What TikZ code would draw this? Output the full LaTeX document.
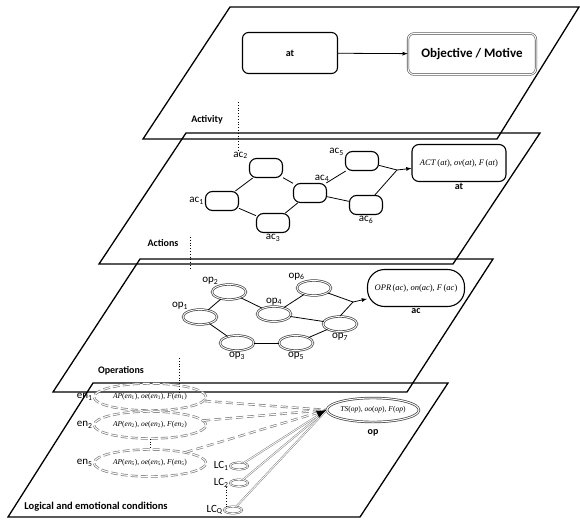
\documentclass[tikz,border=0pt]{standalone}
\usepackage{fontspec}
\setmainfont{Carlito}
\newfontfamily\formfont{Liberation Serif}
\usepackage{tikz}
\usetikzlibrary{arrows,arrows.meta,shapes.geometric,positioning,calc}

\begin{document}
\begin{tikzpicture}[x=1pt,y=-1pt,plane/.style={line width=1.3pt},title/.style={font=\fontsize{10}{12}\selectfont\bfseries,inner sep=1pt},lbl/.style={font=\fontsize{11}{13}\selectfont,inner sep=1pt},label distance=0pt,actn/.style={draw,line width=1.1pt,rounded corners=7pt,minimum width=33pt,minimum height=19pt},oper/.style={ellipse,draw=black!75,double=white,double distance=0.9pt,line width=0.7pt,minimum width=34pt,minimum height=15pt,inner sep=0pt},goal/.style={draw,line width=1.1pt,rounded corners=7pt,font=\formfont\fontsize{8.5}{10}\selectfont,inner sep=1pt},emo/.style={ellipse,draw=gray,line width=0.7pt,double=white,double distance=1pt,dash pattern=on 7pt off 3pt,minimum width=112pt,minimum height=27pt,inner sep=0pt,font=\formfont\fontsize{7.5}{9}\selectfont},cond/.style={ellipse,draw=black!70,line width=0.5pt,double=white,double distance=0.8pt,minimum width=18pt,minimum height=7pt,inner sep=0pt},edge/.style={line width=0.8pt},link/.style={edge,->,>=latex},emoline/.style={draw=gray,line width=0.7pt,double=white,double distance=1pt,dash pattern=on 7pt off 4pt},condline/.style={draw=gray,line width=0.5pt,double=white,double distance=0.8pt}]
\useasboundingbox (0,0) rectangle (580,519);

\draw[plane] (230,7) -- (579,7) -- (497,139) -- (143,139) -- cycle;
\draw[plane] (186,133) -- (540,133) -- (453,264) -- (99,264) -- cycle;
\draw[plane] (140,259) -- (493,259) -- (407,392) -- (53,392) -- cycle;
\draw[plane] (93,383) -- (448,383) -- (360,517) -- (8,517) -- cycle;

\node (topat)[draw,line width=1.1pt,rounded corners=6pt,minimum width=95pt,minimum height=41pt,title] at (290,53) {at};
\node (motive)[draw=black!70,line width=0.6pt,double=white,double distance=1pt,rounded corners=6pt,minimum width=128pt,minimum height=41pt,font=\fontsize{13}{15}\selectfont\bfseries] at (472,54) {Objective / Motive};
\draw [link] (topat) to (motive);
\node (activity)[title] at (207,120) {Activity};
\draw [dotted,thick] (238,102) -- (238,152);

\node (ac1)[actn,label={[lbl]left:ac\textsubscript{1}}] at (222,201) {};
\node (ac2)[actn,label={[lbl]155:ac\textsubscript{2}}] at (266,168) {};
\node (ac3)[actn,label={[lbl]below:ac\textsubscript{3}}] at (273,223) {};
\node (ac4)[actn,label={[lbl]70:ac\textsubscript{4}}] at (310,193) {};
\node (ac5)[actn,label={[lbl]165:ac\textsubscript{5}}] at (362,161) {};
\node (ac6)[actn,label={[lbl]below:ac\textsubscript{6}}] at (366,205) {};
\node (actbox)[goal,minimum width=94pt,minimum height=37pt,label={[title]below:at}] at (459,163) {\textit{ACT}\,(\textit{at}), \textit{ov}(\textit{at}), \textit{F}\,(\textit{at})};
\coordinate (j1) at (397,170);
\draw [edge] (ac1) to (ac2);
\draw [edge] (ac1) to (ac3);
\draw [edge] (ac2) to (ac4);
\draw [edge] (ac3) to (ac4);
\draw [edge] (ac4) to (ac5);
\draw [edge] (ac4) to (ac6);
\draw [edge] (ac5) to (j1);
\draw [edge] (ac6) to (j1);
\draw [link] (j1) to (actbox);
\node (actions)[title] at (163,243) {Actions};
\draw [dotted,thick] (190,237) -- (190,270);

\node (op1)[oper,label={[lbl]150:op\textsubscript{1}}] at (200,317) {};
\node (op2)[oper,label={[lbl]145:op\textsubscript{2}}] at (229,292) {};
\node (op3)[oper,label={[lbl]below:op\textsubscript{3}}] at (237,343) {};
\node (op4)[oper,label={[lbl]above:op\textsubscript{4}}] at (274,314) {};
\node (op5)[oper,label={[lbl]below:op\textsubscript{5}}] at (296,343) {};
\node (op6)[oper,label={[lbl]140:op\textsubscript{6}}] at (314,288) {};
\node (op7)[oper,label={[lbl]below:op\textsubscript{7}}] at (340,324) {};
\node (oprbox)[goal,rounded corners=17pt,minimum width=97pt,minimum height=37pt,label={[title]below:ac}] at (416,288) {\textit{OPR}\,(\textit{ac}), \textit{on}(\textit{ac}), \textit{F}\,(\textit{ac})};
\coordinate (j2) at (353,302);
\draw [edge] (op1) to (op2);
\draw [edge] (op1) to (op3);
\draw [edge] (op2) to (op4);
\draw [edge] (op3) to (op5);
\draw [edge] (op4) to (op6);
\draw [edge] (op4) to (op7);
\draw [edge] (op5) to (op7);
\draw [edge] (op6) to (j2);
\draw [edge] (op7.north) to (j2);
\draw [link] (j2) to (oprbox);
\node (operations)[title] at (121,371) {Operations};
\draw [dotted,thick] (179,358) -- (179,393);

\node (en1)[emo,label={[lbl]left:en\textsubscript{1}}] at (150,397) {\textit{AP}(\textit{en}\textsubscript{1}), \textit{oe}(\textit{en}\textsubscript{1}), \textit{F}(\textit{en}\textsubscript{1})};
\node (en2)[emo,label={[lbl]left:en\textsubscript{2}}] at (150,425) {\textit{AP}(\textit{en}\textsubscript{2}), \textit{oe}(\textit{en}\textsubscript{2}), \textit{F}(\textit{en}\textsubscript{2})};
\node (en5)[emo,label={[lbl]left:en\textsubscript{5}}] at (150,463) {\textit{AP}(\textit{en}\textsubscript{5}), \textit{oe}(\textit{en}\textsubscript{5}), \textit{F}(\textit{en}\textsubscript{5})};
\node (lc1)[cond,label={[lbl]left:LC\textsubscript{1}}] at (239,466) {};
\node (lc2)[cond,label={[lbl]left:LC\textsubscript{2}}] at (239,483) {};
\node (lcq)[cond,label={[lbl]left:LC\textsubscript{Q}}] at (233,510) {};
\node (opx)[ellipse,draw=black!75,line width=0.7pt,double=white,double distance=1pt,minimum width=87pt,minimum height=24pt,inner sep=0pt,font=\formfont\fontsize{7.5}{9}\selectfont,label={[title,label distance=6pt]below:op}] at (373,410) {\textit{TS}(\textit{op}), \textit{oo}(\textit{op}), \textit{F}(\textit{op})};
\draw [dotted,thick] (en2.south) to (en5.north);
\draw [dotted,thick] (lcq.north west |- lc2.south) to (lcq.north west);
\draw [emoline] (en1) to (opx.west);
\draw [emoline] (en2) to (opx.west);
\draw [emoline] (en5) to (opx.west);
\draw [condline] (lc1) to (opx.west);
\draw [condline] (lc2) to (opx.west);
\draw [condline] (lcq) to (opx.west);
\coordinate (tipbase) at (318,414);
\draw [-{Latex[length=10pt,width=8pt]},line width=1pt] (tipbase) to (opx.west);
\node (conditions)[title,font=\fontsize{10.5}{12}\selectfont\bfseries] at (96,507) {Logical and emotional conditions};
\end{tikzpicture}
\end{document}
